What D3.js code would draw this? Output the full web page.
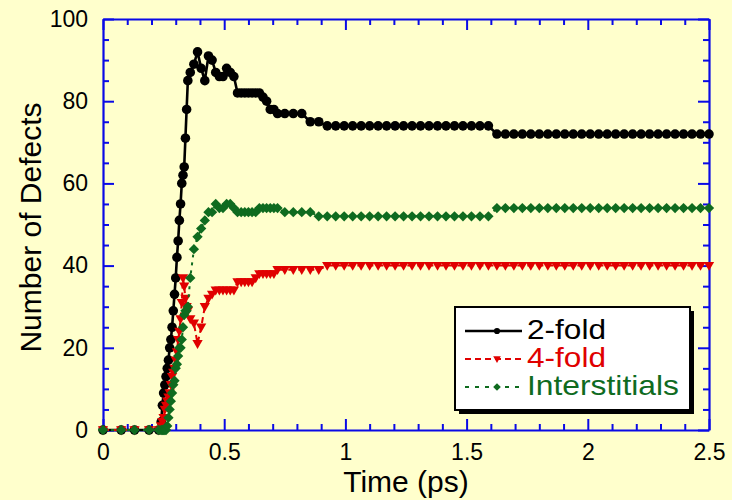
<!DOCTYPE html>
<html>
<head>
<meta charset="utf-8">
<script src="https://cdn.jsdelivr.net/npm/d3@7"></script>
<style>
  html, body { margin: 0; padding: 0; background: #ffffcc; }
  svg { display: block; }
</style>
</head>
<body>
<svg id="chart" width="732" height="500"></svg>
<script>
// Simulation sampling times (ps)
const timePs = [
  0, 0.075, 0.13, 0.19, 0.23,
  0.24, 0.245, 0.25, 0.255, 0.26, 0.265, 0.27, 0.275, 0.28, 0.285, 0.29, 0.295,
  0.3, 0.305, 0.31, 0.315, 0.32, 0.325, 0.33, 0.335, 0.34, 0.345, 0.35,
  0.36, 0.375, 0.39, 0.405, 0.42, 0.435, 0.45, 0.465, 0.48, 0.495, 0.51, 0.525,
  0.54, 0.555, 0.57, 0.585, 0.6, 0.615, 0.63, 0.645, 0.66, 0.675, 0.69, 0.705, 0.72,
  0.75, 0.785, 0.82, 0.855, 0.89, 0.925, 0.96, 0.995, 1.03, 1.065, 1.1, 1.135,
  1.17, 1.205, 1.24, 1.275, 1.31, 1.345, 1.38, 1.415, 1.45, 1.485, 1.52, 1.555,
  1.59, 1.625, 1.66, 1.695, 1.73, 1.765, 1.8, 1.835, 1.87, 1.905, 1.94, 1.975,
  2.01, 2.045, 2.08, 2.115, 2.15, 2.185, 2.22, 2.255, 2.29, 2.325, 2.36, 2.395,
  2.43, 2.465, 2.5
];

// Number of 2-fold coordinated defects
const twoFold = [
  0, 0, 0, 0, 0,
  2, 6, 9, 11, 13, 15, 17, 20, 22, 25, 29, 33,
  37, 42, 46, 51, 55, 60, 62, 64, 71, 78, 85,
  87, 89, 92, 88, 85, 91, 90, 87, 86, 86, 88, 87,
  86, 82, 82, 82, 82, 82, 82, 82, 81, 80, 78, 78, 77,
  77, 77, 77, 75, 75, 74, 74, 74, 74, 74, 74, 74,
  74, 74, 74, 74, 74, 74, 74, 74, 74, 74, 74, 74,
  74, 72, 72, 72, 72, 72, 72, 72, 72, 72, 72, 72,
  72, 72, 72, 72, 72, 72, 72, 72, 72, 72, 72, 72,
  72, 72, 72
];

// Number of 4-fold coordinated defects
const fourFold = [
  0, 0, 0, 0, 0,
  1, 2, 3, 5, 6, 7, 8, 9, 11, 13, 14, 15,
  17, 19, 22, 24, 27, 31, 37, 35, 32, 30, 29,
  27, 26, 21, 25, 30, 32, 33, 34, 34, 34, 34, 34,
  34, 36, 36, 36, 36, 36, 37, 38, 38, 38, 38, 38, 39,
  39, 39, 39, 39, 39, 40, 40, 40, 40, 40, 40, 40,
  40, 40, 40, 40, 40, 40, 40, 40, 40, 40, 40, 40,
  40, 40, 40, 40, 40, 40, 40, 40, 40, 40, 40, 40,
  40, 40, 40, 40, 40, 40, 40, 40, 40, 40, 40, 40,
  40, 40, 40
];

// Number of interstitial defects
const interstitials = [
  0, 0, 0, 0, 0,
  0, 0, 0, 0, 0, 1, 3, 5, 7, 9, 11, 12,
  15, 16, 18, 20, 20, 22, 25, 28, 29, 29, 30,
  37, 44, 47, 49, 51, 53, 53, 55, 54, 54, 55, 55,
  54, 53, 53, 53, 53, 53, 53, 54, 54, 54, 54, 54, 54,
  53, 53, 53, 53, 52, 52, 52, 52, 52, 52, 52, 52,
  52, 52, 52, 52, 52, 52, 52, 52, 52, 52, 52, 52,
  52, 54, 54, 54, 54, 54, 54, 54, 54, 54, 54, 54,
  54, 54, 54, 54, 54, 54, 54, 54, 54, 54, 54, 54,
  54, 54, 54
];

const seriesNames = ["2-fold", "4-fold", "Interstitials"];
const seriesColors = ["#000000", "#e00000", "#0f6b1f"];

const xTickValues = [0, 0.5, 1, 1.5, 2, 2.5];
const xTickLabels = ["0", "0.5", "1", "1.5", "2", "2.5"];
const yTickValues = [0, 20, 40, 60, 80, 100];
const yTickLabels = ["0", "20", "40", "60", "80", "100"];

const xTitle = "Time (ps)";
const yTitle = "Number of Defects";

// ---- layout ----
const FONT = "'Liberation Sans', Arial, Helvetica, sans-serif";
const AXIS_BLUE = "#0a0ae6";
const plot = { left: 103, right: 709, top: 19, bottom: 430 };

const svg = d3.select("#chart");
svg.append("rect").attr("width", 732).attr("height", 500).attr("fill", "#ffffcc");

const x = d3.scaleLinear().domain([0, 2.5]).range([plot.left, plot.right]);
const y = d3.scaleLinear().domain([0, 100]).range([plot.bottom, plot.top]);

const xMinor = d3.range(0, 2.5001, 0.1).map(v => +v.toFixed(2)).filter(v => !xTickValues.includes(v));
const yMinor = d3.range(0, 100.1, 5).filter(v => !yTickValues.includes(v));

function styleAxis(g) {
  g.select(".domain").attr("stroke", AXIS_BLUE).attr("stroke-width", 2.2);
  g.selectAll(".tick line").attr("stroke", AXIS_BLUE).attr("stroke-width", 2);
  g.selectAll(".tick text").attr("fill", "#000").attr("font-family", FONT).attr("font-size", 23);
}
function minorAxis(gen, transform) {
  const g = svg.append("g").attr("transform", transform).call(gen);
  g.select(".domain").remove();
  g.selectAll(".tick line").attr("stroke", AXIS_BLUE).attr("stroke-width", 2);
  g.selectAll(".tick text").remove();
}

// minor ticks on all four sides
minorAxis(d3.axisBottom(x).tickValues(xMinor).tickSize(-6), `translate(0,${plot.bottom})`);
minorAxis(d3.axisTop(x).tickValues(xMinor).tickSize(-6), `translate(0,${plot.top})`);
minorAxis(d3.axisLeft(y).tickValues(yMinor).tickSize(-6), `translate(${plot.left},0)`);
minorAxis(d3.axisRight(y).tickValues(yMinor).tickSize(-6), `translate(${plot.right},0)`);

// major axes
svg.append("g").attr("transform", `translate(0,${plot.bottom})`)
  .call(d3.axisBottom(x).tickValues(xTickValues).tickFormat((d, i) => xTickLabels[i])
    .tickSizeInner(-11).tickSizeOuter(0).tickPadding(14))
  .call(styleAxis);
svg.append("g").attr("transform", `translate(0,${plot.top})`)
  .call(d3.axisTop(x).tickValues(xTickValues).tickFormat("").tickSizeInner(-11).tickSizeOuter(0))
  .call(styleAxis);
svg.append("g").attr("transform", `translate(${plot.left},0)`)
  .call(d3.axisLeft(y).tickValues(yTickValues).tickFormat((d, i) => yTickLabels[i])
    .tickSizeInner(-11).tickSizeOuter(0).tickPadding(15))
  .call(styleAxis);
svg.append("g").attr("transform", `translate(${plot.right},0)`)
  .call(d3.axisRight(y).tickValues(yTickValues).tickFormat("").tickSizeInner(-11).tickSizeOuter(0))
  .call(styleAxis);

// axis titles
svg.append("text")
  .attr("x", (plot.left + plot.right) / 2).attr("y", 492)
  .attr("text-anchor", "middle").attr("font-family", FONT).attr("font-size", 30)
  .attr("fill", "#000").text(xTitle);
svg.append("text")
  .attr("transform", `translate(41,${(plot.top + plot.bottom) / 2 + 3}) rotate(-90)`)
  .attr("text-anchor", "middle").attr("font-family", FONT).attr("font-size", 30)
  .attr("fill", "#000").text(yTitle);

// ---- marker shapes ----
const triDown = {
  draw(ctx, size) {
    const s = Math.sqrt(size) / 8;
    ctx.moveTo(-4.6 * s, -3.3 * s);
    ctx.lineTo(4.6 * s, -3.3 * s);
    ctx.lineTo(0, 4.7 * s);
    ctx.closePath();
  }
};
const diamond = {
  draw(ctx, size) {
    const s = Math.sqrt(size) / 8;
    ctx.moveTo(0, -4.6 * s);
    ctx.lineTo(4.6 * s, 0);
    ctx.lineTo(0, 4.6 * s);
    ctx.lineTo(-4.6 * s, 0);
    ctx.closePath();
  }
};
const seriesSymbols = [d3.symbolCircle, triDown, diamond];
const symbolSizes = [72, 80, 80];
const dashes = [null, "6,4", "3,5"];

const seriesValues = [twoFold, fourFold, interstitials];
const line = d3.line().x(d => x(d.t)).y(d => y(d.v));

seriesValues.forEach((vals, k) => {
  const pts = timePs.map((t, i) => ({ t, v: vals[i] }));
  const g = svg.append("g");
  g.append("path").datum(pts).attr("d", line)
    .attr("fill", "none").attr("stroke", seriesColors[k])
    .attr("stroke-width", k === 0 ? 2.6 : 2)
    .attr("stroke-dasharray", dashes[k]);
  g.selectAll("path.mark").data(pts).join("path").attr("class", "mark")
    .attr("transform", d => `translate(${x(d.t)},${y(d.v)})`)
    .attr("d", d3.symbol(seriesSymbols[k], symbolSizes[k]))
    .attr("fill", seriesColors[k]);
});

// ---- legend ----
const lg = { x: 455, y: 307, w: 235, h: 103 };
const legendTextWidths = [79, 79, 152];
svg.append("rect").attr("x", lg.x + 4).attr("y", lg.y + 4).attr("width", lg.w).attr("height", lg.h).attr("fill", "#000");
svg.append("rect").attr("x", lg.x).attr("y", lg.y).attr("width", lg.w).attr("height", lg.h)
  .attr("fill", "#ffffff").attr("stroke", "#000").attr("stroke-width", 2);

seriesNames.forEach((name, k) => {
  const base = 339 + k * 28;
  const cy = base - 8;
  svg.append("line").attr("x1", 465).attr("x2", 522).attr("y1", cy).attr("y2", cy)
    .attr("stroke", seriesColors[k]).attr("stroke-width", k === 0 ? 2.6 : 2.2)
    .attr("stroke-dasharray", k === 0 ? null : (k === 1 ? "6,4" : "4,6"));
  svg.append("path").attr("transform", `translate(497,${cy})`)
    .attr("d", d3.symbol(seriesSymbols[k], k === 0 ? 30 : 44)())
    .attr("fill", seriesColors[k]);
  // legend labels: a wide face, glyphs stretched horizontally to the label width
  const t = svg.append("text").attr("x", 0).attr("y", 0)
    .attr("font-family", FONT).attr("font-size", 27).attr("fill", seriesColors[k])
    .text(name);
  const natural = t.node().getComputedTextLength() || legendTextWidths[k];
  const sx = legendTextWidths[k] / natural;
  t.attr("transform", `translate(527,${base}) scale(${sx},1)`);
});
</script>
</body>
</html>
